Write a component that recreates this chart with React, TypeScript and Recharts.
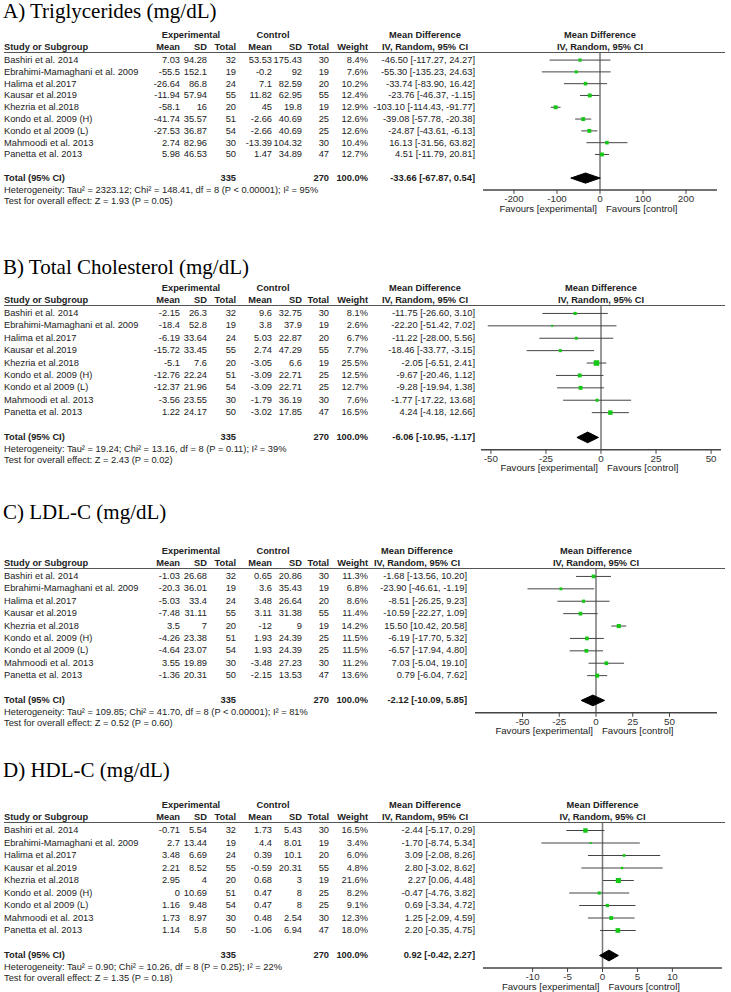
import React from 'react';
import { ScatterChart, Scatter, XAxis, YAxis, ErrorBar, ReferenceLine } from 'recharts';

const studies = [
  'Bashiri et al. 2014',
  'Ebrahimi-Mamaghani et al. 2009',
  'Halima et al.2017',
  'Kausar et al.2019',
  'Khezria et al.2018',
  'Kondo et al. 2009 (H)',
  'Kondo et al 2009 (L)',
  'Mahmoodi et al. 2013',
  'Panetta et al. 2013',
];
const expN = [32, 19, 24, 55, 20, 51, 54, 30, 50];
const ctlN = [30, 19, 20, 55, 19, 25, 25, 30, 47];

// A) Triglycerides
const tgExpMean = [7.03, -55.5, -26.64, -11.94, -58.1, -41.74, -27.53, 2.74, 5.98];
const tgExpSD = [94.28, 152.1, 86.8, 57.94, 16, 35.57, 36.87, 82.96, 46.53];
const tgCtlMean = [53.53, -0.2, 7.1, 11.82, 45, -2.66, -2.66, -13.39, 1.47];
const tgCtlSD = [175.43, 92, 82.59, 62.95, 19.8, 40.69, 40.69, 104.32, 34.89];
const tgWeight = [8.4, 7.6, 10.2, 12.4, 12.9, 12.6, 12.6, 10.4, 12.7];
const tgMD = [-46.5, -55.3, -33.74, -23.76, -103.1, -39.08, -24.87, 16.13, 4.51];
const tgLow = [-117.27, -135.23, -83.9, -46.37, -114.43, -57.78, -43.61, -31.56, -11.79];
const tgHigh = [24.27, 24.63, 16.42, -1.15, -91.77, -20.38, -6.13, 63.82, 20.81];
const tgTotal = [-33.66, -67.87, 0.54];
const tgTicks = [-200, -100, 0, 100, 200];

// B) Total cholesterol
const tcExpMean = [-2.15, -18.4, -6.19, -15.72, -5.1, -12.76, -12.37, -3.56, 1.22];
const tcExpSD = [26.3, 52.8, 33.64, 33.45, 7.6, 22.24, 21.96, 23.55, 24.17];
const tcCtlMean = [9.6, 3.8, 5.03, 2.74, -3.05, -3.09, -3.09, -1.79, -3.02];
const tcCtlSD = [32.75, 37.9, 22.87, 47.29, 6.6, 22.71, 22.71, 36.19, 17.85];
const tcWeight = [8.1, 2.6, 6.7, 7.7, 25.5, 12.5, 12.7, 7.6, 16.5];
const tcMD = [-11.75, -22.2, -11.22, -18.46, -2.05, -9.67, -9.28, -1.77, 4.24];
const tcLow = [-26.6, -51.42, -28.0, -33.77, -6.51, -20.46, -19.94, -17.22, -4.18];
const tcHigh = [3.1, 7.02, 5.56, -3.15, 2.41, 1.12, 1.38, 13.68, 12.66];
const tcTotal = [-6.06, -10.95, -1.17];
const tcTicks = [-50, -25, 0, 25, 50];

// C) LDL-C
const ldlExpMean = [-1.03, -20.3, -5.03, -7.48, 3.5, -4.26, -4.64, 3.55, -1.36];
const ldlExpSD = [26.68, 36.01, 33.4, 31.11, 7, 23.38, 23.07, 19.89, 20.31];
const ldlCtlMean = [0.65, 3.6, 3.48, 3.11, -12, 1.93, 1.93, -3.48, -2.15];
const ldlCtlSD = [20.86, 35.43, 26.64, 31.38, 9, 24.39, 24.39, 27.23, 13.53];
const ldlWeight = [11.3, 6.8, 8.6, 11.4, 14.2, 11.5, 11.5, 11.2, 13.6];
const ldlMD = [-1.68, -23.9, -8.51, -10.59, 15.5, -6.19, -6.57, 7.03, 0.79];
const ldlLow = [-13.56, -46.61, -26.25, -22.27, 10.42, -17.7, -17.94, -5.04, -6.04];
const ldlHigh = [10.2, -1.19, 9.23, 1.09, 20.58, 5.32, 4.8, 19.1, 7.62];
const ldlTotal = [-2.12, -10.09, 5.85];
const ldlTicks = [-50, -25, 0, 25, 50];

// D) HDL-C
const hdlExpMean = [-0.71, 2.7, 3.48, 2.21, 2.95, 0, 1.16, 1.73, 1.14];
const hdlExpSD = [5.54, 13.44, 6.69, 8.52, 4, 10.69, 9.48, 8.97, 5.8];
const hdlCtlMean = [1.73, 4.4, 0.39, -0.59, 0.68, 0.47, 0.47, 0.48, -1.06];
const hdlCtlSD = [5.43, 8.01, 10.1, 20.31, 3, 8, 8, 2.54, 6.94];
const hdlWeight = [16.5, 3.4, 6.0, 4.8, 21.6, 8.2, 9.1, 12.3, 18.0];
const hdlMD = [-2.44, -1.7, 3.09, 2.8, 2.27, -0.47, 0.69, 1.25, 2.2];
const hdlLow = [-5.17, -8.74, -2.08, -3.02, 0.06, -4.76, -3.34, -2.09, -0.35];
const hdlHigh = [0.29, 5.34, 8.26, 8.62, 4.48, 3.82, 4.72, 4.59, 4.75];
const hdlTotal = [0.92, -0.42, 2.27];
const hdlTicks = [-10, -5, 0, 5, 10];

const SANS = '"Liberation Sans", Arial, sans-serif';
const SERIF = '"Liberation Serif", "Times New Roman", serif';
const FS = 9.3;
const TEXT = '#222';

const COL = { expMean: 180, expSD: 207, expN: 236, ctlMean: 272, ctlSD: 302, ctlN: 329, weight: 368 };

function Txt({ x, y, align = 'left', bold = false, size = FS, children }: any) {
  const style: React.CSSProperties = {
    position: 'absolute',
    top: y - 7,
    height: 14,
    lineHeight: '14px',
    fontFamily: SANS,
    fontSize: size,
    fontWeight: bold ? 700 : 400,
    color: TEXT,
    whiteSpace: 'nowrap',
  };
  if (align === 'right') Object.assign(style, { left: x - 300, width: 300, textAlign: 'right' });
  else if (align === 'center') Object.assign(style, { left: x - 150, width: 300, textAlign: 'center' });
  else Object.assign(style, { left: x });
  return <div style={style}>{children}</div>;
}

const fmt = (v: number) => String(v);
const ci = (m: number, l: number, h: number) => `${m.toFixed(2)} [${l.toFixed(2)}, ${h.toFixed(2)}]`;

const Square = (props: any) => {
  const { cx, cy, payload } = props;
  const s = Math.max(2, 1.1 * Math.sqrt(payload.w));
  return <rect x={cx - s / 2} y={cy - s / 2} width={s} height={s} fill="#16c816" />;
};
const Nothing = () => <g />;

function ForestPanel({ p }: any) {
  const { title, titleTop, row0, step, plotLeft, plotRight, domainMax, mdRight, ticks } = p;
  const yTop = -0.6;
  const yBottom = 11;
  const totalRow = 10;
  const L = row0 + yTop * step;
  const axisY = row0 + yBottom * step;
  const totalY = row0 + totalRow * step;
  const zeroX = (plotLeft + plotRight) / 2;
  const axisH = 16;
  const mdCenter = mdRight - 50;

  const rows = studies.map((_, i) => ({
    x: p.md[i],
    y: i,
    err: [p.md[i] - p.low[i], p.high[i] - p.md[i]],
    w: p.weight[i],
  }));
  const [tm, tl, th] = p.total;
  const diamond = [
    { x: tl, y: totalRow },
    { x: tm, y: totalRow - 0.43 },
    { x: th, y: totalRow },
    { x: tm, y: totalRow + 0.43 },
    { x: tl, y: totalRow },
  ];

  return (
    <>
      <div
        style={{
          position: 'absolute',
          left: 3,
          top: titleTop,
          fontFamily: SERIF,
          fontSize: 21,
          lineHeight: '22px',
          color: '#000',
          whiteSpace: 'nowrap',
        }}
      >
        {title}
      </div>
      <Txt x={191} y={L - 18} align="center" bold>Experimental</Txt>
      <Txt x={273} y={L - 18} align="center" bold>Control</Txt>
      <Txt x={mdCenter} y={L - 18} align="center" bold>Mean Difference</Txt>
      <Txt x={zeroX} y={L - 18} align="center" bold>Mean Difference</Txt>
      <Txt x={4} y={L - 6} bold>Study or Subgroup</Txt>
      <Txt x={COL.expMean} y={L - 6} align="right" bold>Mean</Txt>
      <Txt x={COL.expSD} y={L - 6} align="right" bold>SD</Txt>
      <Txt x={COL.expN} y={L - 6} align="right" bold>Total</Txt>
      <Txt x={COL.ctlMean} y={L - 6} align="right" bold>Mean</Txt>
      <Txt x={COL.ctlSD} y={L - 6} align="right" bold>SD</Txt>
      <Txt x={COL.ctlN} y={L - 6} align="right" bold>Total</Txt>
      <Txt x={COL.weight} y={L - 6} align="right" bold>Weight</Txt>
      <Txt x={mdCenter} y={L - 6} align="center" bold>IV, Random, 95% CI</Txt>
      <Txt x={zeroX} y={L - 6} align="center" bold>IV, Random, 95% CI</Txt>
      <div style={{ position: 'absolute', left: 4, width: 721, top: L - 0.75, height: 0, borderTop: '1.5px solid #555' }} />

      {studies.map((name, i) => {
        const y = row0 + i * step;
        return (
          <React.Fragment key={name}>
            <Txt x={4} y={y}>{name}</Txt>
            <Txt x={COL.expMean} y={y} align="right">{fmt(p.expMean[i])}</Txt>
            <Txt x={COL.expSD} y={y} align="right">{fmt(p.expSD[i])}</Txt>
            <Txt x={COL.expN} y={y} align="right">{expN[i]}</Txt>
            <Txt x={COL.ctlMean} y={y} align="right">{fmt(p.ctlMean[i])}</Txt>
            <Txt x={COL.ctlSD} y={y} align="right">{fmt(p.ctlSD[i])}</Txt>
            <Txt x={COL.ctlN} y={y} align="right">{ctlN[i]}</Txt>
            <Txt x={COL.weight} y={y} align="right">{p.weight[i].toFixed(1)}%</Txt>
            <Txt x={mdRight} y={y} align="right">{ci(p.md[i], p.low[i], p.high[i])}</Txt>
          </React.Fragment>
        );
      })}

      <Txt x={4} y={totalY} bold>Total (95% CI)</Txt>
      <Txt x={COL.expN} y={totalY} align="right" bold>335</Txt>
      <Txt x={COL.ctlN} y={totalY} align="right" bold>270</Txt>
      <Txt x={COL.weight} y={totalY} align="right" bold>100.0%</Txt>
      <Txt x={mdRight} y={totalY} align="right" bold>{ci(tm, tl, th)}</Txt>
      <Txt x={4} y={totalY + 12}>{p.het}</Txt>
      <Txt x={4} y={totalY + 23}>{p.z}</Txt>

      <div style={{ position: 'absolute', left: plotLeft - 15, top: L }}>
        <ScatterChart
          width={plotRight - plotLeft + 30}
          height={axisY - L + axisH}
          margin={{ top: 0, right: 15, bottom: 0, left: 15 }}
        >
          <XAxis
            type="number"
            dataKey="x"
            domain={[-domainMax, domainMax]}
            ticks={ticks}
            interval={0}
            allowDataOverflow
            height={axisH}
            tickSize={4}
            tickMargin={1}
            axisLine={{ stroke: '#444', strokeWidth: 1.5 }}
            tickLine={{ stroke: '#444' }}
            tick={{ fontSize: 9.8, fill: '#333', fontFamily: SANS }}
          />
          <YAxis type="number" dataKey="y" domain={[yTop, yBottom]} reversed hide allowDataOverflow />
          <ReferenceLine x={0} stroke="#777" strokeWidth={1.5} />
          <Scatter data={rows} shape={Square} isAnimationActive={false}>
            <ErrorBar dataKey="err" direction="x" width={0} stroke="#444" strokeWidth={1} isAnimationActive={false} />
          </Scatter>
          <Scatter
            data={diamond}
            line={{ stroke: '#000', fill: '#000', strokeWidth: 1 }}
            lineType="joint"
            shape={Nothing}
            isAnimationActive={false}
          />
        </ScatterChart>
      </div>
      <Txt x={zeroX - 3} y={axisY + 19} align="right" size={9.6}>Favours [experimental]</Txt>
      <Txt x={zeroX + 6} y={axisY + 19} size={9.6}>Favours [control]</Txt>
    </>
  );
}

const panels = [
  {
    title: 'A) Triglycerides (mg/dL)', titleTop: 0, row0: 60, step: 11.8,
    plotLeft: 483, plotRight: 717, domainMax: 272, mdRight: 475, ticks: tgTicks,
    expMean: tgExpMean, expSD: tgExpSD, ctlMean: tgCtlMean, ctlSD: tgCtlSD,
    weight: tgWeight, md: tgMD, low: tgLow, high: tgHigh, total: tgTotal,
    het: 'Heterogeneity: Tau² = 2323.12; Chi² = 148.41, df = 8 (P < 0.00001); I² = 95%',
    z: 'Test for overall effect: Z = 1.93 (P = 0.05)',
  },
  {
    title: 'B) Total Cholesterol (mg/dL)', titleTop: 256, row0: 313, step: 12.4,
    plotLeft: 481, plotRight: 721, domainMax: 54.5, mdRight: 475, ticks: tcTicks,
    expMean: tcExpMean, expSD: tcExpSD, ctlMean: tcCtlMean, ctlSD: tcCtlSD,
    weight: tcWeight, md: tcMD, low: tcLow, high: tcHigh, total: tcTotal,
    het: 'Heterogeneity: Tau² = 19.24; Chi² = 13.16, df = 8 (P = 0.11); I² = 39%',
    z: 'Test for overall effect: Z = 2.43 (P = 0.02)',
  },
  {
    title: 'C) LDL-C (mg/dL)', titleTop: 501, row0: 576, step: 12.4,
    plotLeft: 475, plotRight: 717, domainMax: 82.3, mdRight: 467, ticks: ldlTicks,
    expMean: ldlExpMean, expSD: ldlExpSD, ctlMean: ldlCtlMean, ctlSD: ldlCtlSD,
    weight: ldlWeight, md: ldlMD, low: ldlLow, high: ldlHigh, total: ldlTotal,
    het: 'Heterogeneity: Tau² = 109.85; Chi² = 41.70, df = 8 (P < 0.00001); I² = 81%',
    z: 'Test for overall effect: Z = 0.52 (P = 0.60)',
  },
  {
    title: 'D) HDL-C (mg/dL)', titleTop: 759, row0: 830, step: 12.5,
    plotLeft: 483, plotRight: 722, domainMax: 17.1, mdRight: 475, ticks: hdlTicks,
    expMean: hdlExpMean, expSD: hdlExpSD, ctlMean: hdlCtlMean, ctlSD: hdlCtlSD,
    weight: hdlWeight, md: hdlMD, low: hdlLow, high: hdlHigh, total: hdlTotal,
    het: 'Heterogeneity: Tau² = 0.90; Chi² = 10.26, df = 8 (P = 0.25); I² = 22%',
    z: 'Test for overall effect: Z = 1.35 (P = 0.18)',
  },
];

export default function App() {
  return (
    <div style={{ position: 'absolute', left: 0, top: 0, width: 731, height: 992, background: '#fff', overflow: 'hidden' }}>
      {panels.map((p) => (
        <ForestPanel key={p.title} p={p} />
      ))}
    </div>
  );
}
